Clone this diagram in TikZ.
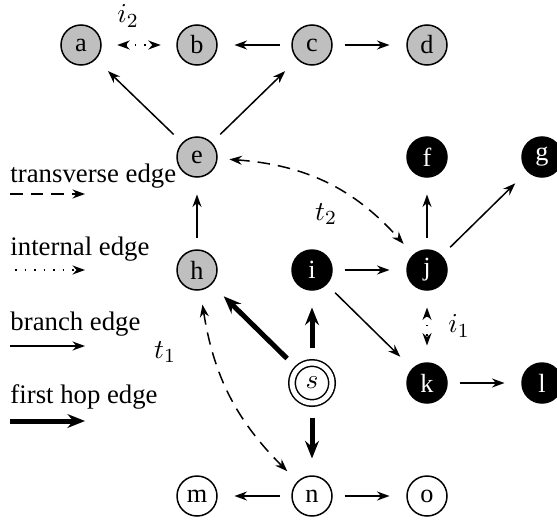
\documentclass[tikz,border=0pt]{standalone}
\usepackage{fontspec}
\setmainfont{Liberation Serif}
\usetikzlibrary{arrows.meta}

\begin{document}
\begin{tikzpicture}[x=0.4pt,y=-0.4pt,
  vtx/.style={circle,draw,line width=0.6pt,minimum size=16pt,inner sep=0pt,outer sep=5pt,
              font=\fontsize{10.5}{12}\selectfont},
  grayv/.style={vtx,fill=black!25},
  blackv/.style={vtx,fill=black,text=white},
  whitev/.style={vtx,fill=white},
  srcv/.style={vtx,double,double distance=2pt,fill=white,minimum size=16pt,outer sep=6pt},
  tip/.style={-{Stealth[length=5pt,width=3.6pt]}},
  branch/.style={line width=0.6pt,tip},
  firsthop/.style={line width=2pt,-{Stealth[length=7pt,width=5.5pt]}},
  transverse/.style={line width=0.6pt,dash pattern=on 5pt off 3.2pt,tip},
  internal/.style={line width=0.6pt,dash pattern=on 0.6pt off 3.2pt,tip},
  both/.style={{Stealth[length=5pt,width=3.6pt]}-{Stealth[length=5pt,width=3.6pt]}},
  gap/.style={shorten >=2pt},
  lbl/.style={font=\fontsize{10.7}{13}\selectfont,inner sep=0pt},
  mlbl/.style={font=\fontsize{11}{13}\selectfont,inner sep=0pt}
]
\useasboundingbox (0,0) rectangle (557,519);

% vertices
\node[grayv] (a) at (81,45) {a};
\node[grayv] (b) at (197,45) {b};
\node[grayv] (c) at (312,45) {c};
\node[grayv] (d) at (427,45) {d};
\node[grayv] (e) at (197,157) {e};
\node[blackv] (f) at (427,157) {f};
\node[blackv] (g) at (542,157) {g};
\node[grayv] (h) at (197,270) {h};
\node[blackv] (i) at (312,270) {i};
\node[blackv] (j) at (427,270) {j};
\node[srcv] (s) at (312,383) {$s$};
\node[blackv] (k) at (427,383) {k};
\node[blackv] (l) at (542,383) {l};
\node[whitev] (m) at (197,496) {m};
\node[whitev] (n) at (312,496) {n};
\node[whitev] (o) at (427,496) {o};

% branch edges
\draw[branch,gap] (c) -- (b);
\draw[branch,gap] (c) -- (d);
\draw[branch,gap] (e) -- (a);
\draw[branch,gap] (e) -- (c);
\draw[branch,gap] (h) -- (e);
\draw[branch,gap] (i) -- (j);
\draw[branch,gap] (j) -- (f);
\draw[branch,gap] (j) -- (g);
\draw[branch,gap] (i) -- (k);
\draw[branch,gap] (k) -- (l);
\draw[branch,gap] (n) -- (m);
\draw[branch,gap] (n) -- (o);

% first hop edges
\draw[firsthop,gap] (s) -- (h);
\draw[firsthop,gap] (s) -- (i);
\draw[firsthop,gap] (s) -- (n);

% internal edges
\draw[internal,both,shorten >=1.5pt,shorten <=1.5pt] (a) -- (b);
\draw[internal,both,shorten >=2pt,shorten <=2pt] (j) -- (k);

% transverse edges
\draw[transverse,both,shorten >=1pt] (e) to[bend left=22] (j);
\draw[transverse,both,shorten >=1pt,shorten <=1pt] (h) to[bend right=18] (n);

% edge labels
\node[mlbl] (li2) at (128,16) {$i_2$};
\node[mlbl] (li1) at (459,326) {$i_1$};
\node[mlbl] (lt2) at (326,214) {$t_2$};
\node[mlbl] (lt1) at (165,352) {$t_1$};

% legend
\node[lbl,anchor=base west] (ltv) at (10,182) {transverse edge};
\coordinate (tvA) at (10,194);
\coordinate (tvB) at (85,194);
\draw[transverse] (tvA) -- (tvB);

\node[lbl,anchor=base west] (lin) at (10,255) {internal edge};
\coordinate (inA) at (15,270);
\coordinate (inB) at (85,270);
\draw[internal] (inA) -- (inB);

\node[lbl,anchor=base west] (lbr) at (10,330) {branch edge};
\coordinate (brA) at (10,346);
\coordinate (brB) at (85,346);
\draw[branch] (brA) -- (brB);

\node[lbl,anchor=base west] (lfh) at (10,403) {first hop edge};
\coordinate (fhA) at (10,421);
\coordinate (fhB) at (85,421);
\draw[firsthop] (fhA) -- (fhB);
\end{tikzpicture}
\end{document}
